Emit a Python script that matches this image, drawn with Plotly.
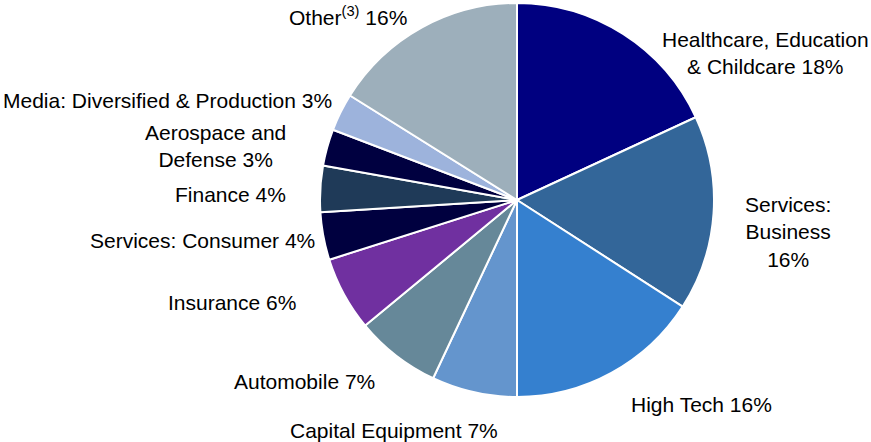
import numpy as np
import plotly.graph_objects as go

categories = ["Healthcare, Education<br>& Childcare", "Services:<br>Business<br>", "High Tech",
              "Capital Equipment", "Automobile", "Insurance", "Services: Consumer",
              "Finance", "Aerospace and<br>Defense", "Media: Diversified & Production",
              "Other<sup>(3)</sup>"]
values = [18.1, 16.0, 15.9, 7.0, 7.0, 6.1, 3.9, 3.8, 3.0, 3.1, 16.1]
pct_labels = ["18%", "16%", "16%", "7%", "7%", "6%", "4%", "4%", "3%", "3%", "16%"]
colors = ["#000080", "#336699", "#3580cf", "#6495cd", "#668899", "#7030a0",
          "#00003f", "#1f3a58", "#000040", "#9db3dc", "#9dafbb"]

texts = [f"{c}{p}" if c.endswith("<br>") else f"{c} {p}" for c, p in zip(categories, pct_labels)]

W, H = 871, 442
cx, cy, r = 517, 200, 197

# label placement style: (x offset px, y offset px downward, horizontal anchor) from slice edge midpoint
label_style = [(142, 19, "center"), (74, 18, "center"), (90, 32, "center"), (-80, 38, "center"),
               (-19, 26, "right"), (-46, 8, "right"), (-6, 4, "right"), (-32, 6, "right"),
               (-112, -1, "center"), (-7, -12, "right"), (-13, -12, "right")]

fig = go.Figure(go.Pie(
    values=values,
    labels=[c.replace("<br>", " ") for c in categories],
    textinfo="none",
    sort=False,
    direction="clockwise",
    rotation=0,
    marker=dict(colors=colors, line=dict(color="white", width=2)),
    showlegend=False,
    hovertemplate="%{label}: %{value}%<extra></extra>",
    domain=dict(x=[(cx - r) / W, (cx + r) / W], y=[1 - (cy + r) / H, 1 - (cy - r) / H]),
    automargin=False,
))

vals = np.array(values, dtype=float)
cum = np.cumsum(vals) - vals / 2
mid = np.deg2rad(cum / vals.sum() * 360.0)
for txt, a, (dx, dy, anchor) in zip(texts, mid, label_style):
    ex = cx + r * np.sin(a)
    ey = cy - r * np.cos(a)
    fig.add_annotation(
        x=ex / W, y=1 - ey / H, xref="paper", yref="paper",
        xshift=dx, yshift=-dy,
        text=txt, showarrow=False,
        xanchor=anchor, yanchor="middle", align="center",
        font=dict(family="Liberation Sans, Arial", size=21, color="black"),
    )

fig.update_layout(
    width=W, height=H,
    margin=dict(l=0, r=0, t=0, b=0),
    paper_bgcolor="white",
    plot_bgcolor="white",
)

fig.write_html("out.html", config={"displayModeBar": False},
               post_script="document.body.style.margin='0';")
